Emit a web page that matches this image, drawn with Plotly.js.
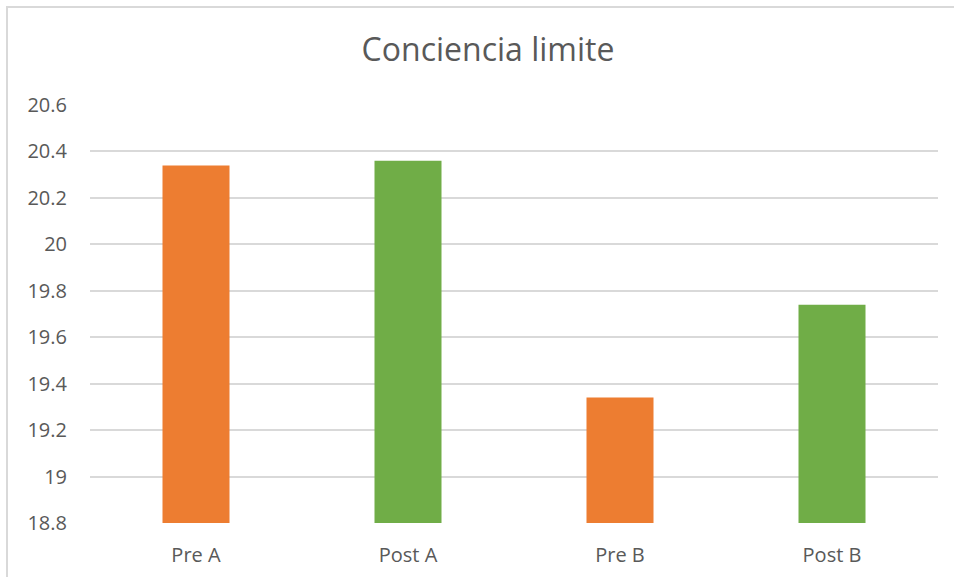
<!DOCTYPE html>
<html>
<head>
<meta charset="utf-8">
<script src="https://cdn.plot.ly/plotly-3.0.1.min.js"></script>
<style>
html,body{margin:0;padding:0;background:#fff;overflow:hidden;}
#wrap{position:relative;width:954px;height:577px;}
#frame{position:absolute;left:6px;top:6px;width:1000px;height:700px;border-left:2px solid #d9d9d9;border-top:2px solid #d9d9d9;pointer-events:none;z-index:2;}
#chart{position:absolute;left:0;top:0;width:954px;height:577px;}
</style>
</head>
<body>
<div id="wrap">
<div id="chart"></div>
<div id="frame"></div>
</div>
<script>
const categories = ["Pre A", "Post A", "Pre B", "Post B"];
const values = [20.34, 20.36, 19.34, 19.74];
const barColors = ["#ED7D31", "#70AD47", "#ED7D31", "#70AD47"];
const axisMin = 18.8;
const axisMax = 20.6;
const tickVals = [18.8, 19, 19.2, 19.4, 19.6, 19.8, 20, 20.2, 20.4, 20.6];
const tickText = ["18.8", "19", "19.2", "19.4", "19.6", "19.8", "20", "20.2", "20.4", "20.6"];
const chartTitle = "Conciencia limite";

const font = "Open Sans, Liberation Sans, sans-serif";

const trace = {
  type: "bar",
  x: categories,
  y: values.map(v => v - axisMin),
  base: values.map(() => axisMin),
  marker: {color: barColors, line: {width: 0}},
  hoverinfo: "x+y"
};

const layout = {
  width: 954,
  height: 577,
  margin: {l: 90, r: 16, t: 105, b: 54},
  paper_bgcolor: "#ffffff",
  plot_bgcolor: "#ffffff",
  showlegend: false,
  bargap: 0.684,
  title: {
    text: chartTitle,
    font: {family: font, size: 32, color: "#595959"},
    x: 488/954, xref: "container", xanchor: "center",
    y: 1 - 50/577, yref: "container", yanchor: "middle"
  },
  xaxis: {
    type: "category",
    showgrid: false,
    zeroline: false,
    showline: false,
    ticks: "",
    ticklabelstandoff: 18,
    tickfont: {family: font, size: 20, color: "#595959"}
  },
  yaxis: {
    range: [axisMin, axisMax],
    tickvals: tickVals,
    ticktext: tickText,
    showgrid: true,
    gridcolor: "#d9d9d9",
    gridwidth: 2,
    zeroline: false,
    showline: false,
    ticks: "",
    ticklabelstandoff: 22,
    tickfont: {family: font, size: 20, color: "#595959"}
  }
};

Plotly.newPlot("chart", [trace], layout, {displayModeBar: false, staticPlot: true});
</script>
</body>
</html>
